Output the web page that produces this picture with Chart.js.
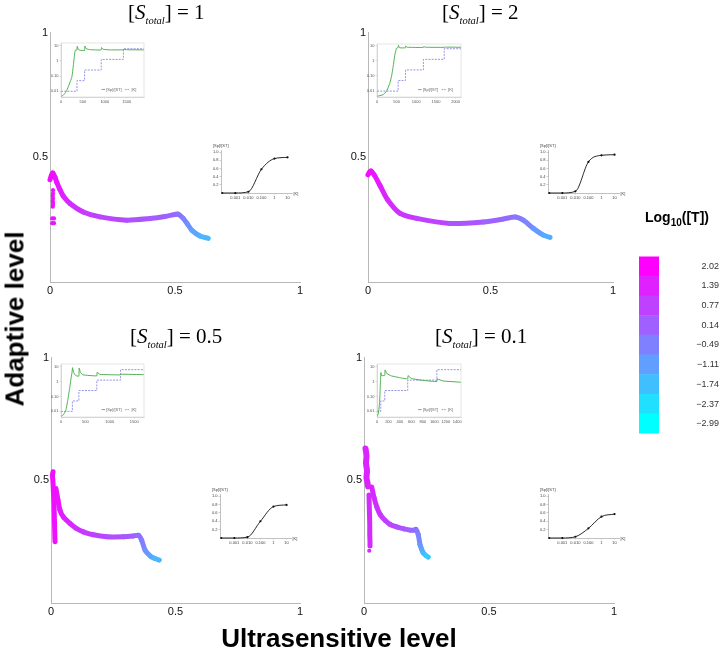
<!DOCTYPE html>
<html>
<head>
<meta charset="utf-8">
<script src="https://cdn.jsdelivr.net/npm/chart.js@4.4.0/dist/chart.umd.min.js"></script>
<style>
body { margin: 0; background: #fff; }
#fig { position: relative; width: 719px; height: 659px; overflow: hidden; font-family: "Liberation Sans", Arial, sans-serif; }
canvas { position: absolute; }
.ttl { position: absolute; font-family: "Liberation Serif", "Times New Roman", serif; font-size: 21px; line-height: 22px; white-space: nowrap; color: #000; }
.ttl sub { font-size: 10.5px; line-height: 0; vertical-align: -5px; }
.big { position: absolute; font-weight: bold; font-size: 26px; white-space: nowrap; transform: translate(-50%, -50%); }
.cbt { position: absolute; font-weight: bold; font-size: 14px; white-space: nowrap; transform: translate(-50%, -50%); }
.cbt sub { font-size: 10px; line-height: 0; }
</style>
</head>
<body>
<div id="fig">
  <canvas id="p1" width="300" height="280" style="left:10px;top:24px"></canvas>
  <canvas id="p2" width="295" height="280" style="left:328px;top:24px"></canvas>
  <canvas id="p3" width="299" height="276" style="left:11px;top:349px"></canvas>
  <canvas id="p4" width="300" height="276" style="left:324px;top:349px"></canvas>

  <canvas id="a1" width="97" height="66" style="left:51px;top:39px"></canvas>
  <canvas id="a2" width="98" height="65" style="left:367px;top:40px"></canvas>
  <canvas id="a3" width="97" height="65" style="left:51px;top:360px"></canvas>
  <canvas id="a4" width="98" height="65" style="left:367px;top:360px"></canvas>

  <canvas id="b1" width="91" height="59" style="left:211px;top:142px"></canvas>
  <canvas id="b2" width="91" height="59" style="left:538px;top:142px"></canvas>
  <canvas id="b3" width="91" height="60" style="left:210px;top:486px"></canvas>
  <canvas id="b4" width="91" height="60" style="left:538px;top:486px"></canvas>

  <canvas id="cbar" width="80" height="258" style="left:639px;top:216px"></canvas>

  <div class="ttl" style="left:128px;top:1px">[<i>S</i><sub><i>total</i></sub>] = 1</div>
  <div class="ttl" style="left:442px;top:1px">[<i>S</i><sub><i>total</i></sub>] = 2</div>
  <div class="ttl" style="left:130px;top:325px">[<i>S</i><sub><i>total</i></sub>] = 0.5</div>
  <div class="ttl" style="left:435px;top:325px">[<i>S</i><sub><i>total</i></sub>] = 0.1</div>

  <div class="big" style="left:15px;top:319px;transform:translate(-50%,-50%) rotate(-90deg)">Adaptive level</div>
  <div class="big" style="left:339px;top:638px">Ultrasensitive level</div>
  <div class="cbt" style="left:677px;top:217px">Log<sub>10</sub>([T])</div>
</div>

<script>
// colour bar
const tValues = [2.02, 1.39, 0.77, 0.14, -0.49, -1.11, -1.74, -2.37, -2.99];
const tLabels = ['2.02', '1.39', '0.77', '0.14', '\u22120.49', '\u22121.11', '\u22121.74', '\u22122.37', '\u22122.99'];

const mainTicks = [0, 0.5, 1];

// [S_total] = 1
const c1X = [0.0, 0.006, 0.011, 0.02, 0.027, 0.04, 0.053, 0.08, 0.133, 0.2, 0.307, 0.4, 0.46, 0.5, 0.513, 0.533, 0.55, 0.567, 0.6, 0.633];
const c1Y = [0.41, 0.428, 0.437, 0.42, 0.40, 0.37, 0.345, 0.315, 0.281, 0.261, 0.248, 0.255, 0.263, 0.271, 0.272, 0.255, 0.232, 0.208, 0.184, 0.175];
const c1T = [1.8, 1.75, 1.7, 1.65, 1.6, 1.5, 1.4, 1.2, 0.95, 0.75, 0.5, 0.3, 0.15, 0.0, -0.1, -0.4, -0.7, -1.0, -1.4, -1.7];
const d1X = [0.012, 0.012, 0.011, 0.012, 0.011, 0.012, 0.012, 0.011, 0.009, 0.016, 0.009, 0.016];
const d1Y = [0.368, 0.355, 0.345, 0.335, 0.325, 0.318, 0.31, 0.302, 0.255, 0.255, 0.236, 0.236];

// [S_total] = 2
const c2X = [0.0, 0.006, 0.012, 0.025, 0.05, 0.08, 0.131, 0.199, 0.335, 0.471, 0.55, 0.6, 0.634, 0.675, 0.716, 0.743];
const c2Y = [0.43, 0.44, 0.445, 0.43, 0.385, 0.33, 0.275, 0.255, 0.235, 0.241, 0.252, 0.261, 0.248, 0.215, 0.188, 0.179];
const c2T = [1.8, 1.75, 1.7, 1.6, 1.45, 1.3, 1.05, 0.85, 0.55, 0.2, 0.0, -0.2, -0.4, -0.8, -1.2, -1.5];

// [S_total] = 0.5
const band3X = [0.008, 0.006, 0.008, 0.01, 0.012, 0.013, 0.014, 0.015, 0.016];
const band3Y = [0.535, 0.52, 0.49, 0.45, 0.41, 0.37, 0.33, 0.29, 0.25];
const band3T = [1.7, 1.7, 1.7, 1.7, 1.7, 1.7, 1.7, 1.7, 1.7];
const c3X = [0.02, 0.028, 0.036, 0.05, 0.076, 0.1, 0.13, 0.17, 0.224, 0.29, 0.33, 0.351, 0.364, 0.378, 0.398, 0.415, 0.435];
const c3Y = [0.466, 0.42, 0.378, 0.35, 0.324, 0.305, 0.29, 0.278, 0.27, 0.27, 0.273, 0.276, 0.256, 0.215, 0.192, 0.182, 0.175];
const c3T = [1.6, 1.55, 1.5, 1.4, 1.3, 1.15, 1.0, 0.8, 0.6, 0.35, 0.15, 0.0, -0.3, -0.7, -1.1, -1.4, -1.7];

// [S_total] = 0.1
const band4aX = [0.006, 0.01, 0.008, 0.012, 0.01, 0.014, 0.016];
const band4aY = [0.63, 0.6, 0.57, 0.54, 0.51, 0.49, 0.475];
const band4aT = [1.3, 1.3, 1.3, 1.3, 1.3, 1.3, 1.3];
const band4bX = [0.02, 0.021, 0.022, 0.023, 0.023, 0.024, 0.024];
const band4bY = [0.44, 0.4, 0.36, 0.32, 0.28, 0.25, 0.232];
const band4bT = [1.15, 1.15, 1.15, 1.15, 1.15, 1.15, 1.15];
const c4X = [0.031, 0.04, 0.051, 0.065, 0.084, 0.105, 0.131, 0.16, 0.184, 0.2, 0.208, 0.217, 0.224, 0.23, 0.237, 0.247, 0.257];
const c4Y = [0.473, 0.43, 0.392, 0.36, 0.337, 0.32, 0.31, 0.302, 0.297, 0.297, 0.3, 0.279, 0.238, 0.22, 0.204, 0.194, 0.187];
const c4T = [1.3, 1.2, 1.1, 1.0, 0.85, 0.7, 0.55, 0.35, 0.15, 0.0, -0.1, -0.4, -0.8, -1.1, -1.4, -1.8, -2.1];
const d4X = [0.021];
const d4Y = [0.213];

// time course insets: ratio (green) and [K] (dashed steps)
const insetYTicks = [0.01, 0.1, 1, 10];
const insetYLabels = ['0.01', '0.10', '1', '10'];
const tTicks1 = [0, 500, 1000, 1500];
const tTicks2 = [0, 500, 1000, 1500, 2000];
const tTicks4 = [0, 200, 400, 600, 800, 1000, 1200, 1400];

const kT1 = [0, 364, 538, 917, 1424, 1893];
const kV1 = [0.01, 0.05, 0.25, 1.25, 6.25, 6.25];
const gT1 = [0, 50, 100, 136, 180, 220, 249, 270, 287, 305, 324, 364, 370, 390, 430, 538, 545, 570, 650, 917, 923, 960, 1100, 1424, 1430, 1500, 1893];
const gV1 = [0.0045, 0.0055, 0.008, 0.012, 0.025, 0.05, 0.09, 0.25, 0.7, 2, 5, 5.2, 9, 6, 5, 4.8, 9.5, 6.5, 5.5, 5.2, 7.5, 5.8, 5.3, 5.3, 5.8, 5.4, 5.3];

const kT2 = [0, 538, 726, 1180, 1709, 2137];
const kV2 = [0.01, 0.05, 0.25, 1.25, 6.25, 6.25];
const gT2 = [0, 154, 239, 325, 368, 410, 453, 496, 538, 545, 575, 726, 732, 770, 1180, 1186, 1250, 1709, 1715, 2137];
const gV2 = [0.0045, 0.0058, 0.0095, 0.033, 0.09, 0.4, 2.4, 6.7, 7.5, 10.5, 7.2, 7.2, 9.5, 7.8, 7.6, 8.5, 7.8, 7.7, 8, 7.8];

const kT3 = [0, 233, 366, 734, 1220, 1700];
const kV3 = [0.01, 0.05, 0.25, 1.25, 6.25, 6.25];
const gT3 = [0, 50, 100, 140, 180, 210, 228, 236, 260, 300, 366, 372, 400, 450, 734, 740, 800, 1220, 1228, 1700];
const gV3 = [0.0045, 0.006, 0.012, 0.06, 0.4, 2, 4.5, 8.5, 4, 2.5, 2.3, 8, 4, 2.8, 2.4, 4.2, 3, 2.8, 3.1, 2.9];

const kT4 = [0, 65, 135, 536, 1044, 1465];
const kV4 = [0.01, 0.05, 0.25, 1.25, 6.25, 6.25];
const gT4 = [0, 25, 45, 55, 62, 68, 80, 135, 141, 170, 250, 400, 536, 542, 600, 800, 1044, 1050, 1150, 1465];
const gV4 = [0.0045, 0.007, 0.04, 0.3, 1.5, 4, 2.5, 2.6, 6, 3.5, 2.4, 1.8, 1.5, 2.5, 1.6, 1.2, 1.0, 1.5, 1.1, 0.9];

// dose response insets
const doseK = [0.0001, 0.001, 0.01, 0.1, 1, 10];
const doseTicks = [0.001, 0.01, 0.1, 1, 10];
const doseTickLabels = ['0.001', '0.010', '0.100', '1', '10'];
const doseYTicks = [0.2, 0.4, 0.6, 0.8, 1.0];
const dose1 = [0, 0, 0.03, 0.58, 0.84, 0.87];
const dose2 = [0, 0, 0.04, 0.76, 0.92, 0.935];
const dose3 = [0, 0, 0.02, 0.40, 0.75, 0.79];
const dose4 = [0, 0, 0.03, 0.23, 0.51, 0.57];

const greenCol = '#3da83d';
const blueCol = '#7b7be0';
const tMin = Math.min(...tValues), tMax = Math.max(...tValues);

function tColor(logT) {
  const f = Math.min(1, Math.max(0, (logT - tMin) / (tMax - tMin)));
  return 'rgb(' + Math.round(255 * f) + ',' + Math.round(255 * (1 - f)) + ',255)';
}

function zip(xs, ys) {
  return xs.map((x, i) => ({x: x, y: ys[i]}));
}

function curveSet(xs, ys, ts, width) {
  return {
    data: zip(xs, ys),
    showLine: true,
    pointRadius: 0,
    borderWidth: width,
    tension: 0.25,
    borderCapStyle: 'round',
    borderJoinStyle: 'round',
    clip: false,
    borderColor: tColor(ts[0]),
    segment: {
      borderColor: c => tColor((ts[c.p0DataIndex] + ts[c.p1DataIndex]) / 2)
    }
  };
}

function dotSet(xs, ys, logT) {
  return {
    data: zip(xs, ys),
    showLine: false,
    pointRadius: 2.1,
    pointBorderWidth: 0,
    pointBackgroundColor: tColor(logT),
    clip: false
  };
}

const base = {
  responsive: false,
  animation: false,
  events: [],
  plugins: {legend: {display: false}, tooltip: {enabled: false}}
};

function mainPanel(id, datasets) {
  new Chart(document.getElementById(id), {
    type: 'scatter',
    data: {datasets: datasets},
    options: Object.assign({}, base, {
      layout: {padding: {top: 8, right: 10}},
      scales: {
        x: {
          type: 'linear', min: 0, max: 1,
          afterFit: s => { s.height = 22; },
          afterBuildTicks: s => { s.ticks = mainTicks.map(v => ({value: v})); },
          ticks: {callback: v => String(v), padding: 2, autoSkip: false, maxRotation: 0,
                  font: {size: 11, family: 'Liberation Sans'}, color: '#111'},
          grid: {display: false, drawTicks: false},
          border: {color: '#b8b8b8'}
        },
        y: {
          type: 'linear', min: 0, max: 1,
          afterFit: s => { s.width = 40; },
          afterBuildTicks: s => { s.ticks = mainTicks.map(v => ({value: v})); },
          ticks: {callback: v => (v === 0 ? '' : String(v)), padding: 2, autoSkip: false,
                  font: {size: 11, family: 'Liberation Sans'}, color: '#111'},
          grid: {display: false, drawTicks: false},
          border: {color: '#b8b8b8'}
        }
      }
    })
  });
}

const insetAPlugin = {
  id: 'insetA',
  afterDraw(chart) {
    const ctx = chart.ctx, a = chart.chartArea;
    const w = a.right - a.left, h = a.bottom - a.top;
    ctx.save();
    ctx.strokeStyle = '#d4d4d4';
    ctx.lineWidth = 0.6;
    ctx.strokeRect(a.left, a.top, w, h);
    const ly = a.top + h * 0.86;
    let lx = a.left + w * 0.49;
    ctx.strokeStyle = greenCol;
    ctx.lineWidth = 0.8;
    ctx.beginPath(); ctx.moveTo(lx, ly); ctx.lineTo(lx + 3.5, ly); ctx.stroke();
    ctx.font = '4px "Liberation Sans"';
    ctx.fillStyle = '#666';
    ctx.textBaseline = 'middle';
    ctx.fillText('[Sp]/[ST]', lx + 4.5, ly);
    lx = a.left + w * 0.77;
    ctx.strokeStyle = blueCol;
    ctx.setLineDash([1.5, 1]);
    ctx.beginPath(); ctx.moveTo(lx, ly); ctx.lineTo(lx + 5, ly); ctx.stroke();
    ctx.setLineDash([]);
    ctx.fillText('[K]', lx + 6.5, ly);
    ctx.restore();
  }
};

function insetA(id, gT, gV, kT, kV, tTicks, yMin, yMax) {
  new Chart(document.getElementById(id), {
    type: 'scatter',
    data: {datasets: [
      {data: zip(gT, gV), showLine: true, borderColor: greenCol, borderWidth: 0.9, pointRadius: 0, tension: 0.1},
      {data: zip(kT, kV), showLine: true, stepped: true, borderColor: blueCol, borderWidth: 0.8,
       borderDash: [2, 1.2], pointRadius: 0}
    ]},
    options: Object.assign({}, base, {
      layout: {padding: {top: 4, right: 4}},
      scales: {
        x: {
          type: 'linear', min: 0, max: kT[kT.length - 1],
          afterFit: s => { s.height = 8; },
          afterBuildTicks: s => { s.ticks = tTicks.map(v => ({value: v})); },
          ticks: {callback: v => String(v), padding: 1, autoSkip: false, maxRotation: 0,
                  font: {size: 4, family: 'Liberation Sans'}, color: '#555'},
          grid: {display: true, drawOnChartArea: false, tickLength: 1.5, color: '#bbb', lineWidth: 0.5},
          border: {color: '#bbb', width: 0.6}
        },
        y: {
          type: 'logarithmic', min: yMin, max: yMax,
          afterFit: s => { s.width = 10; },
          afterBuildTicks: s => { s.ticks = insetYTicks.map(v => ({value: v})); },
          ticks: {callback: (v, i) => insetYLabels[i], padding: 1, autoSkip: false,
                  font: {size: 4, family: 'Liberation Sans'}, color: '#555'},
          grid: {display: true, drawOnChartArea: false, tickLength: 1.5, color: '#bbb', lineWidth: 0.5},
          border: {color: '#bbb', width: 0.6}
        }
      }
    }),
    plugins: [insetAPlugin]
  });
}

const insetBPlugin = {
  id: 'insetB',
  afterDraw(chart) {
    const ctx = chart.ctx, a = chart.chartArea;
    ctx.save();
    ctx.font = '4px "Liberation Sans"';
    ctx.fillStyle = '#444';
    ctx.textBaseline = 'middle';
    ctx.textAlign = 'left';
    ctx.fillText('[Sp]/[ST]', a.left - 8, a.top - 4);
    ctx.fillText('[K]', a.right + 1.5, a.bottom + 0.5);
    ctx.restore();
  }
};

function insetB(id, vals) {
  new Chart(document.getElementById(id), {
    type: 'scatter',
    data: {datasets: [{
      data: zip(doseK, vals), showLine: true, cubicInterpolationMode: 'monotone',
      borderColor: '#111', borderWidth: 0.9, pointRadius: 1.1, pointBorderWidth: 0,
      pointBackgroundColor: '#111', clip: false
    }]},
    options: Object.assign({}, base, {
      layout: {padding: {top: 8, right: 10}},
      scales: {
        x: {
          type: 'logarithmic', min: 0.00008, max: 22,
          afterFit: s => { s.height = 8; },
          afterBuildTicks: s => { s.ticks = doseTicks.map(v => ({value: v})); },
          ticks: {callback: (v, i) => doseTickLabels[i], padding: 1, autoSkip: false, maxRotation: 0,
                  font: {size: 4, family: 'Liberation Sans'}, color: '#444'},
          grid: {display: true, drawOnChartArea: false, tickLength: 1.5, color: '#999', lineWidth: 0.5},
          border: {color: '#999', width: 0.6}
        },
        y: {
          type: 'linear', min: 0, max: 1.05,
          afterFit: s => { s.width = 10; },
          afterBuildTicks: s => { s.ticks = doseYTicks.map(v => ({value: v})); },
          ticks: {callback: v => v.toFixed(1), padding: 1, autoSkip: false,
                  font: {size: 4, family: 'Liberation Sans'}, color: '#444'},
          grid: {display: true, drawOnChartArea: false, tickLength: 1.5, color: '#999', lineWidth: 0.5},
          border: {color: '#999', width: 0.6}
        }
      }
    }),
    plugins: [insetBPlugin]
  });
}

mainPanel('p1', [curveSet(c1X, c1Y, c1T, 5), dotSet(d1X, d1Y, 1.6)]);
mainPanel('p2', [curveSet(c2X, c2Y, c2T, 5)]);
mainPanel('p3', [curveSet(band3X, band3Y, band3T, 5), curveSet(c3X, c3Y, c3T, 5)]);
mainPanel('p4', [curveSet(band4aX, band4aY, band4aT, 6), curveSet(band4bX, band4bY, band4bT, 5),
                 curveSet(c4X, c4Y, c4T, 5), dotSet(d4X, d4Y, 1.15)]);

insetA('a1', gT1, gV1, kT1, kV1, tTicks1, 0.0042, 15);
insetA('a2', gT2, gV2, kT2, kV2, tTicks2, 0.0041, 12.8);
insetA('a3', gT3, gV3, kT3, kV3, tTicks1, 0.0042, 15);
insetA('a4', gT4, gV4, kT4, kV4, tTicks4, 0.0042, 15);

insetB('b1', dose1);
insetB('b2', dose2);
insetB('b3', dose3);
insetB('b4', dose4);

// colour bar as a stacked bar; tick padding also pads the scale top/bottom, hence the tall canvas
new Chart(document.getElementById('cbar'), {
  type: 'bar',
  data: {
    labels: [''],
    datasets: tValues.slice().reverse().map(v => ({
      data: [1], backgroundColor: tColor(v), borderWidth: 0,
      barPercentage: 1, categoryPercentage: 1, stack: 's'
    }))
  },
  options: Object.assign({}, base, {
    layout: {padding: 0},
    scales: {
      x: {display: false, stacked: true},
      y: {
        stacked: true, position: 'right', min: 0, max: 9,
        afterFit: s => { s.width = 60; },
        afterBuildTicks: s => { s.ticks = tValues.map((v, i) => ({value: 8.5 - i})); },
        ticks: {callback: (v, i) => tLabels[i], padding: 35, crossAlign: 'far', autoSkip: false,
                font: {size: 9, family: 'Liberation Sans'}, color: '#333'},
        grid: {display: false, drawTicks: false},
        border: {display: false}
      }
    }
  })
});
</script>
</body>
</html>
